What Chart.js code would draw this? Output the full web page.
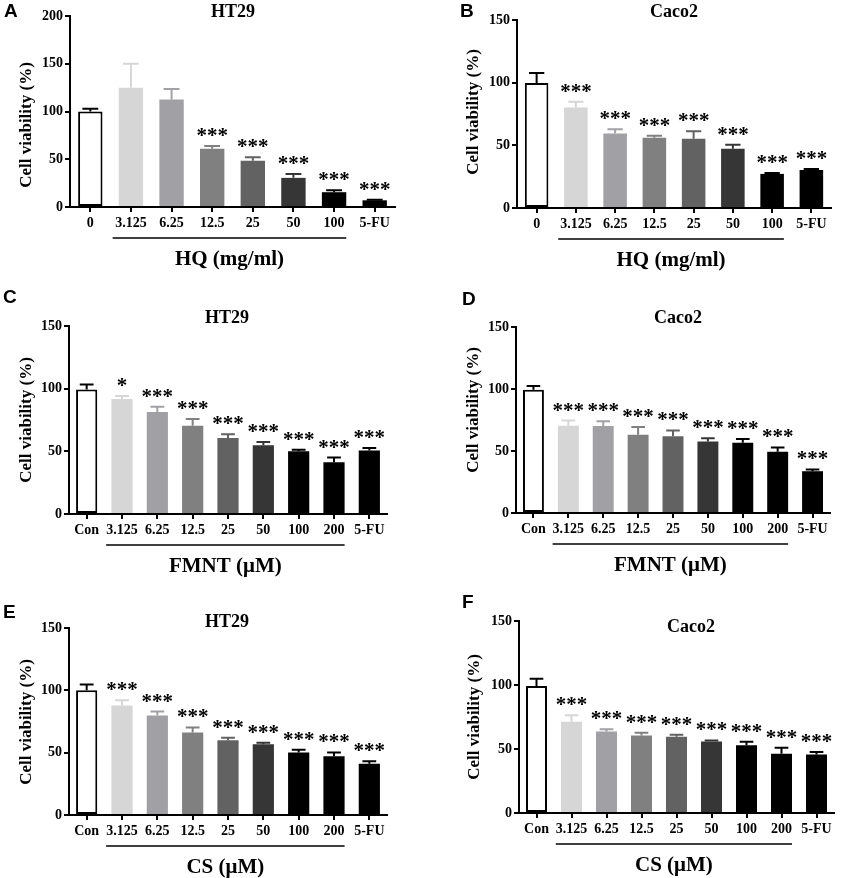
<!DOCTYPE html>
<html>
<head>
<meta charset="utf-8">
<script src="https://cdn.jsdelivr.net/npm/chart.js@4.4.1/dist/chart.umd.min.js"></script>
<style>
    body { margin: 0; background: #ffffff; }
    #figura { position: relative; width: 844px; height: 878px; }
    .panel { position: absolute; }
</style>
</head>
<body>
<div id="figura"></div>
<script>
const SERIF = '"Liberation Serif", "Times New Roman", serif';
const SANS = '"Liberation Sans", Arial, sans-serif';

// categories
const hqLabels = ["0", "3.125", "6.25", "12.5", "25", "50", "100", "5-FU"];
const doseLabels = ["Con", "3.125", "6.25", "12.5", "25", "50", "100", "200", "5-FU"];

// A - HQ on HT29
const hqHT29Means = [100, 125, 112.5, 61, 48.5, 30.5, 15.5, 7];
const hqHT29Errors = [3, 25, 11, 3, 3.5, 4, 2, 0.7];
const hqHT29Stars = ["", "", "", "***", "***", "***", "***", "***"];

// B - HQ on Caco2
const hqCaco2Means = [99.7, 80.2, 59.4, 56, 55.2, 47.2, 27.2, 30.4];
const hqCaco2Errors = [8, 4.5, 3.5, 1.6, 6, 3.2, 0.8, 0.8];
const hqCaco2Stars = ["", "***", "***", "***", "***", "***", "***", "***"];

// C - FMNT on HT29
const fmntHT29Means = [99.4, 91.7, 81.4, 70.5, 60.7, 54.9, 50.1, 41.3, 50.6];
const fmntHT29Errors = [4, 2.4, 4.2, 5.3, 2.9, 2.6, 1.1, 3.7, 2.1];
const fmntHT29Stars = ["", "*", "***", "***", "***", "***", "***", "***", "***"];

// D - FMNT on Caco2
const fmntCaco2Means = [99.3, 70.4, 70.1, 63.1, 61.8, 57.7, 56.6, 49.4, 33.7];
const fmntCaco2Errors = [3.2, 4.1, 3.8, 6.2, 4.8, 2.5, 3, 3.5, 1.4];
const fmntCaco2Stars = ["", "***", "***", "***", "***", "***", "***", "***", "***"];

// E - CS on HT29
const csHT29Means = [100.1, 87.8, 79.8, 66.2, 60, 56.8, 50.2, 47.2, 41.1];
const csHT29Errors = [4.5, 4.3, 3.2, 4, 1.9, 1.1, 2.1, 3, 2.1];
const csHT29Stars = ["", "***", "***", "***", "***", "***", "***", "***", "***"];

// F - CS on Caco2
const csCaco2Means = [99.3, 71.2, 63.7, 60.6, 59.5, 55.9, 53, 46.3, 45.8];
const csCaco2Errors = [5.5, 5.2, 1.8, 2, 1.6, 0.8, 2.6, 4.6, 1.8];
const csCaco2Stars = ["", "***", "***", "***", "***", "***", "***", "***", "***"];

const hqColors = ["#ffffff", "#d6d6d6", "#a1a1a5", "#808080", "#626262", "#363636", "#000000", "#000000"];
const doseColors = ["#ffffff", "#d6d6d6", "#a1a1a5", "#808080", "#626262", "#363636", "#000000", "#000000", "#000000"];

const panels = [
    { letra: "A", celula: "HT29", eixo: "HQ (mg/ml)", labels: hqLabels, means: hqHT29Means, errors: hqHT29Errors, stars: hqHT29Stars, colors: hqColors, yMax: 200,
      box: [0, 0, 422, 290], area: [70, 16, 395, 207], titulo: [233, 12], letraPos: [4, 12], yTitulo: [27, 125] },
    { letra: "B", celula: "Caco2", eixo: "HQ (mg/ml)", labels: hqLabels, means: hqCaco2Means, errors: hqCaco2Errors, stars: hqCaco2Stars, colors: hqColors, yMax: 150,
      box: [422, 0, 422, 290], area: [517, 20, 831, 208], titulo: [674, 12], letraPos: [460, 12], yTitulo: [474, 112] },
    { letra: "C", celula: "HT29", eixo: "FMNT (\u03bcM)", labels: doseLabels, means: fmntHT29Means, errors: fmntHT29Errors, stars: fmntHT29Stars, colors: doseColors, yMax: 150,
      box: [0, 290, 422, 290], area: [69, 326, 387, 514], titulo: [227, 318], letraPos: [3, 298], yTitulo: [27, 420] },
    { letra: "D", celula: "Caco2", eixo: "FMNT (\u03bcM)", labels: doseLabels, means: fmntCaco2Means, errors: fmntCaco2Errors, stars: fmntCaco2Stars, colors: doseColors, yMax: 150,
      box: [422, 290, 422, 290], area: [516, 327, 830, 513], titulo: [678, 318], letraPos: [462, 300], yTitulo: [474, 410] },
    { letra: "E", celula: "HT29", eixo: "CS (\u03bcM)", labels: doseLabels, means: csHT29Means, errors: csHT29Errors, stars: csHT29Stars, colors: doseColors, yMax: 150,
      box: [0, 580, 422, 298], area: [69, 628, 387, 815], titulo: [227, 622], letraPos: [3, 613], yTitulo: [27, 722] },
    { letra: "F", celula: "Caco2", eixo: "CS (\u03bcM)", labels: doseLabels, means: csCaco2Means, errors: csCaco2Errors, stars: csCaco2Stars, colors: doseColors, yMax: 150,
      box: [422, 580, 422, 298], area: [519, 621, 834, 813], titulo: [691, 627], letraPos: [462, 603], yTitulo: [475, 717] }
];

panels.forEach(crearPanel);

function crearPanel(p) {
    const [bx, by, bw, bh] = p.box;
    const [al, at, ar, ab] = p.area;

    const div = document.createElement("div");
    div.className = "panel";
    div.style.left = bx + "px";
    div.style.top = by + "px";
    div.style.width = bw + "px";
    div.style.height = bh + "px";
    const canvas = document.createElement("canvas");
    div.appendChild(canvas);
    document.getElementById("figura").appendChild(div);

    new Chart(canvas, {
        type: "bar",
        data: {
            labels: p.labels,
            datasets: [{
                data: p.means,
                backgroundColor: p.colors,
                borderColor: "#000000",
                borderWidth: p.colors.map(c => c === "#ffffff" ? 2 : 0),
                borderSkipped: false,
                categoryPercentage: 1,
                barPercentage: 0.6
            }]
        },
        options: {
            responsive: true,
            maintainAspectRatio: false,
            animation: false,
            layout: {
                padding: { left: 0, top: at - by, right: bx + bw - ar, bottom: 0 }
            },
            plugins: {
                legend: { display: false },
                tooltip: { enabled: false }
            },
            scales: {
                x: {
                    grid: { display: true, drawOnChartArea: false, offset: false, tickLength: 5, color: "#000", lineWidth: 2 },
                    border: { display: true, color: "#000", width: 2 },
                    ticks: { color: "#000", padding: 3, maxRotation: 0, autoSkip: false, font: { family: SERIF, size: 14, weight: "bold" } },
                    afterFit: scale => { scale.height = by + bh - ab; }
                },
                y: {
                    min: 0,
                    max: p.yMax,
                    grid: { display: true, drawOnChartArea: false, tickLength: 5, color: "#000", lineWidth: 2 },
                    border: { display: true, color: "#000", width: 2 },
                    ticks: { stepSize: 50, color: "#000", padding: 2, font: { family: SERIF, size: 14, weight: "bold" } },
                    afterFit: scale => { scale.width = al - bx; }
                }
            }
        },
        plugins: [anotaciones(p)]
    });
}

function anotaciones(p) {
    const [bx, by] = p.box;
    return {
        id: "anotaciones" + p.letra,
        afterDatasetsDraw(chart) {
            const ctx = chart.ctx;
            const y = chart.scales.y;
            const meta = chart.getDatasetMeta(0);
            ctx.save();
            p.means.forEach((m, i) => {
                const bar = meta.data[i];
                const top = y.getPixelForValue(m + p.errors[i]);
                const base = y.getPixelForValue(m);
                const cap = bar.width * 0.65;
                ctx.strokeStyle = p.colors[i] === "#ffffff" ? "#000000" : p.colors[i];
                ctx.lineWidth = 2;
                ctx.beginPath();
                ctx.moveTo(bar.x, base);
                ctx.lineTo(bar.x, top);
                ctx.moveTo(bar.x - cap / 2, top);
                ctx.lineTo(bar.x + cap / 2, top);
                ctx.stroke();
                if (p.stars[i]) {
                    ctx.fillStyle = "#000";
                    ctx.font = "bold 21px " + SERIF;
                    ctx.textAlign = "center";
                    ctx.textBaseline = "alphabetic";
                    ctx.fillText(p.stars[i], bar.x, top - 4);
                }
            });
            ctx.restore();
        },
        afterDraw(chart) {
            const ctx = chart.ctx;
            const x = chart.scales.x;
            const n = p.labels.length;
            const cat = x.getPixelForValue(1) - x.getPixelForValue(0);
            const x1 = x.getPixelForValue(1) - cat * 0.45;
            const x2 = x.getPixelForValue(n - 2) + cat * 0.3;
            const bottom = chart.chartArea.bottom;

            ctx.save();
            ctx.fillStyle = "#000";
            ctx.strokeStyle = "#000";

            // subrayado del grupo de dosis
            ctx.lineWidth = 1.5;
            ctx.beginPath();
            ctx.moveTo(x1, bottom + 31);
            ctx.lineTo(x2, bottom + 31);
            ctx.stroke();

            ctx.textAlign = "center";
            ctx.textBaseline = "middle";
            ctx.font = "bold 21px " + SERIF;
            ctx.fillText(p.eixo, (x1 + x2) / 2, bottom + 53);

            ctx.font = "bold 18px " + SERIF;
            ctx.fillText(p.celula, p.titulo[0] - bx, p.titulo[1] - by);

            ctx.save();
            ctx.translate(p.yTitulo[0] - bx, p.yTitulo[1] - by);
            ctx.rotate(-Math.PI / 2);
            ctx.font = "bold 17px " + SERIF;
            ctx.fillText("Cell viability (%)", 0, 0);
            ctx.restore();

            ctx.textAlign = "left";
            ctx.font = "bold 19px " + SANS;
            ctx.fillText(p.letra, p.letraPos[0] - bx, p.letraPos[1] - by);
            ctx.restore();
        }
    };
}
</script>
</body>
</html>
